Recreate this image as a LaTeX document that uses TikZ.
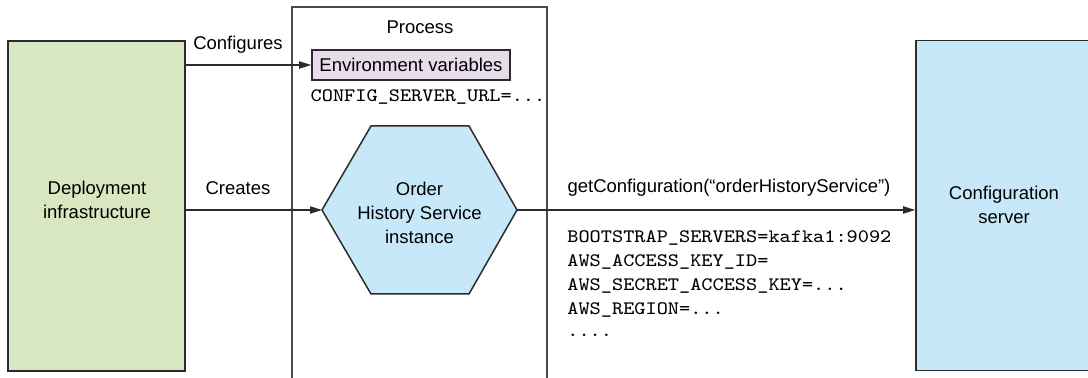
\documentclass[tikz,border=0pt]{standalone}
\usepackage{fontspec}
\setmainfont{Liberation Sans}
\newfontfamily\monofont[FakeStretch=1.12]{Latin Modern Mono}
\usetikzlibrary{arrows.meta}
\definecolor{lineC}{HTML}{2B2B2B}
\definecolor{procC}{HTML}{4A4A4A}
\definecolor{greenF}{HTML}{D9E7C1}
\definecolor{blueF}{HTML}{C7E8F8}
\definecolor{purpleF}{HTML}{E8DCEB}
\begin{document}
\begin{tikzpicture}[x=0.5pt,y=-0.5pt,
  font=\fontsize{9.25}{12}\selectfont,
  box/.style={draw=lineC, line width=0.8pt, inner sep=0, align=center},
  arr/.style={-{Triangle[length=6pt,width=3.6pt]}, draw=lineC, line width=0.65pt},
  lbl/.style={inner sep=0, align=center},
  mono/.style={font=\monofont\fontsize{9.5}{12}\selectfont, inner sep=0, anchor=west}]
\useasboundingbox (0,0) rectangle (1088,378);
\begin{scope}
\clip (0,0) rectangle (1088,378);
% process box (open at the bottom)
\draw[draw=procC, line width=0.75pt] (292,380) -- (292,7) -- (547,7) -- (547,380);
\node[lbl] (proc) at (420,27) {Process};
% deployment infrastructure
\node[box, fill=greenF, minimum width=88.5pt, minimum height=165pt] (dep) at (96.5,206) {};
\node[lbl] (deptext) at (97,200) {Deployment\\infrastructure};
% configuration server
\node[box, fill=blueF, minimum width=88pt, minimum height=165pt] (cfg) at (1004,205.5) {};
\node[lbl] (cfgtext) at (1004,205) {Configuration\\server};
% environment variables
\node[box, fill=purpleF, minimum width=99pt, minimum height=15pt] (env) at (411,65) {Environment variables};
\node[mono, anchor=center] (url) at (428,97) {CONFIG\_SERVER\_URL=...};
% hexagon
\draw[draw=lineC, line width=0.75pt, fill=blueF] (322,210) -- (371,126) -- (469,126) -- (517,210) -- (469,294) -- (371,294) -- cycle;
\coordinate (hexW) at (322,210);
\coordinate (hexE) at (517,210);
\node[lbl] (hex) at (419.5,213) {Order\\History Service\\instance};
% connectors
\draw[arr] (dep.east |- env.west) -- (env.west);
\draw[arr] (dep.east |- hexW) -- (hexW);
\draw[arr] (hexE) -- (cfg.west |- hexE);
% labels
\node[lbl] (lconf) at (238,45) {Configures};
\node[lbl] (lcreate) at (238,188) {Creates};
\node[lbl] (lget) at (729,188) {getConfiguration(“orderHistoryService”)};
% configuration values
\node[mono] (v1) at (567,238) {BOOTSTRAP\_SERVERS=kafka1:9092};
\node[mono] (v2) at (567,262) {AWS\_ACCESS\_KEY\_ID=};
\node[mono] (v3) at (567,286) {AWS\_SECRET\_ACCESS\_KEY=...};
\node[mono] (v4) at (567,310) {AWS\_REGION=...};
\node[mono] (v5) at (567,335) {....};
\end{scope}
\end{tikzpicture}
\end{document}
